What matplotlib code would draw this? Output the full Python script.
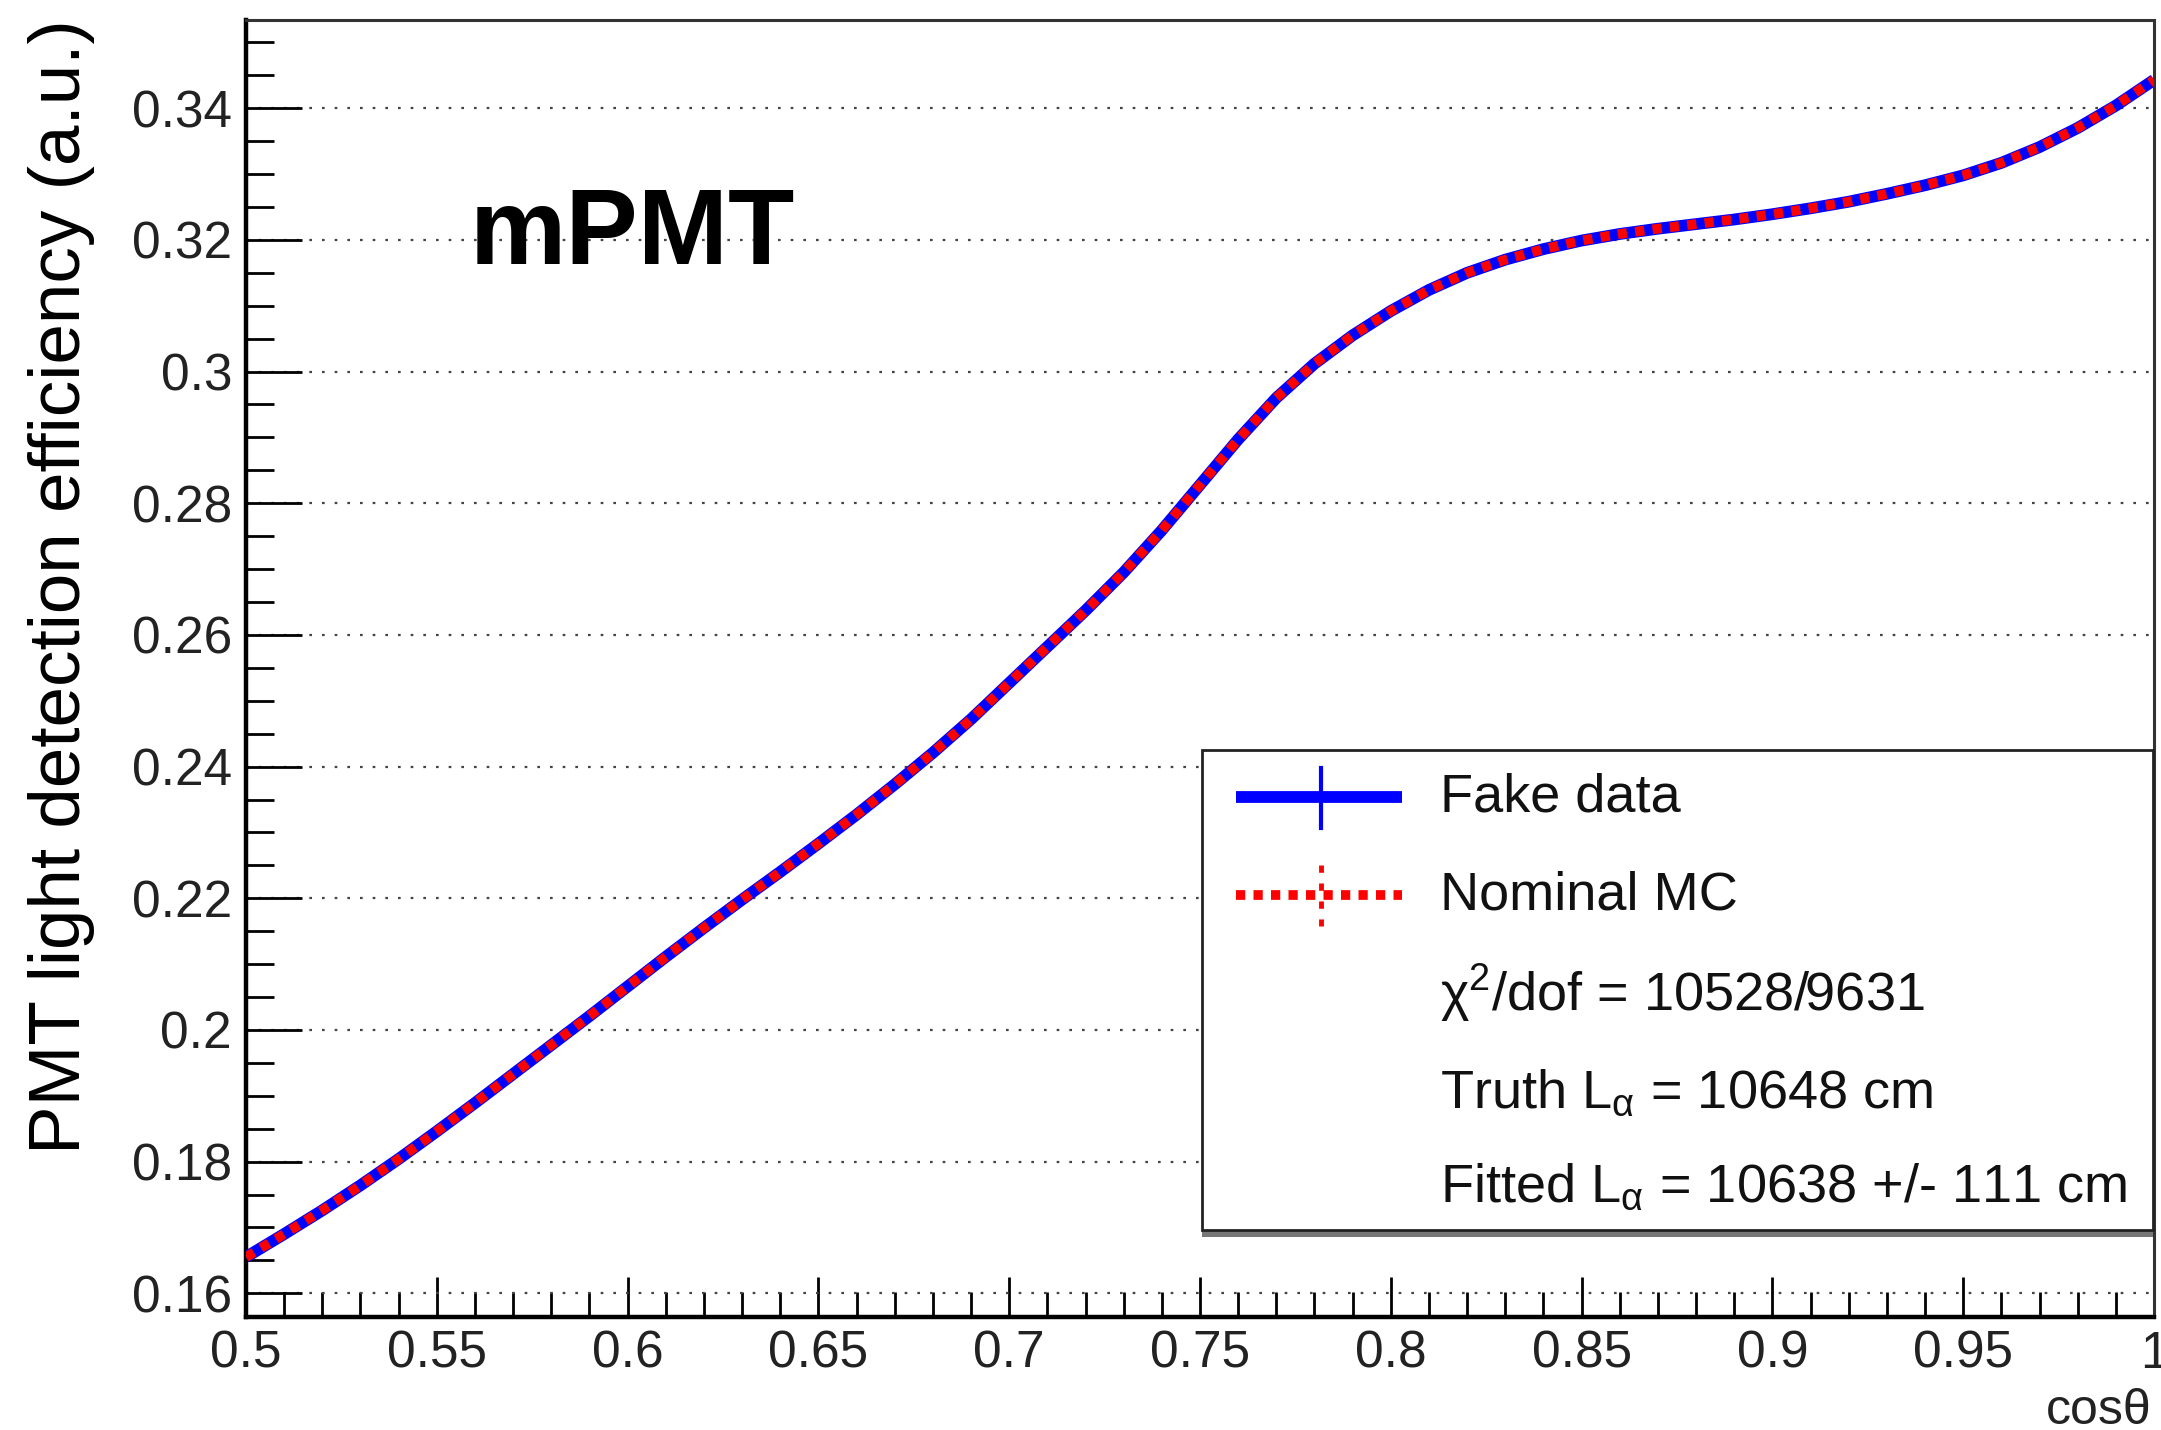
import matplotlib
matplotlib.use("Agg")
import matplotlib.pyplot as plt
from matplotlib.ticker import MultipleLocator, FuncFormatter
from matplotlib.patches import Rectangle
from matplotlib.lines import Line2D

plt.rcParams["font.family"] = "Liberation Sans"
plt.rcParams["mathtext.fontset"] = "custom"
plt.rcParams["mathtext.rm"] = "Liberation Sans"
plt.rcParams["mathtext.it"] = "Liberation Sans:italic"
plt.rcParams["mathtext.bf"] = "Liberation Sans:bold"

# efficiency vs cos(theta)
cos_theta = [0.50, 0.51, 0.52, 0.53, 0.54, 0.55, 0.56, 0.57, 0.58, 0.59,
             0.60, 0.61, 0.62, 0.63, 0.64, 0.65, 0.66, 0.67, 0.68, 0.69,
             0.70, 0.71, 0.72, 0.73, 0.74, 0.75, 0.76, 0.77, 0.78, 0.79,
             0.80, 0.81, 0.82, 0.83, 0.84, 0.85, 0.86, 0.87, 0.88, 0.89,
             0.90, 0.91, 0.92, 0.93, 0.94, 0.95, 0.96, 0.97, 0.98, 0.99,
             1.00]
fake_data = [0.1655, 0.1690, 0.1726, 0.1764, 0.1804, 0.1846, 0.1889, 0.1933, 0.1977, 0.2021,
             0.2066, 0.2111, 0.2155, 0.2198, 0.2240, 0.2283, 0.2327, 0.2373, 0.2421, 0.2472,
             0.2527, 0.2582, 0.2637, 0.2695, 0.2759, 0.2828, 0.2897, 0.2960, 0.3012, 0.3055,
             0.3092, 0.3124, 0.3150, 0.3170, 0.3186, 0.3199, 0.3209, 0.3217, 0.3224, 0.3231,
             0.3239, 0.3248, 0.3258, 0.3270, 0.3283, 0.3298, 0.3317, 0.3341, 0.3370, 0.3404,
             0.3443]
nominal_mc = list(fake_data)

chi2 = 10528
ndof = 9631
truth_len = 10648
fitted_len = 10638
fitted_err = 111

W, H = 2161, 1430
fig = plt.figure(figsize=(W / 100, H / 100), dpi=100)
ax = fig.add_axes([246 / W, 1 - 1317 / H, (2154 - 246) / W, (1317 - 20) / H])

ax.plot(cos_theta, fake_data, color="blue", lw=8.5, solid_capstyle="butt",
        solid_joinstyle="round", zorder=3)
ax.plot(cos_theta, nominal_mc, color="red", lw=7, linestyle=(0, (0.95, 0.85)),
        dash_capstyle="butt", zorder=4)

ax.set_xlim(0.5, 1.0)
ax.set_ylim(0.1564, 0.3534)
ax.xaxis.set_major_locator(MultipleLocator(0.05))
ax.xaxis.set_minor_locator(MultipleLocator(0.01))
ax.yaxis.set_major_locator(MultipleLocator(0.02))
ax.yaxis.set_minor_locator(MultipleLocator(0.005))
fmt = FuncFormatter(lambda v, p: "%g" % round(v, 4))
ax.xaxis.set_major_formatter(fmt)
ax.yaxis.set_major_formatter(fmt)

ax.tick_params(axis="both", which="both", direction="in", top=False, right=False,
               colors="black", labelcolor="#222222", labelsize=37, width=2)
ax.tick_params(axis="y", which="major", length=40, pad=10)
ax.tick_params(axis="y", which="minor", length=20)
ax.tick_params(axis="x", which="major", length=29, pad=9)
ax.tick_params(axis="x", which="minor", length=18)

ax.yaxis.grid(True, which="major", color="#444444", lw=1.6, linestyle=(0, (1.2, 4.5)))
ax.set_axisbelow(True)
for side in ["left", "bottom"]:
    ax.spines[side].set_linewidth(3.2)
for side in ["top", "right"]:
    ax.spines[side].set_linewidth(2.2)
    ax.spines[side].set_color("#333333")

# overlay in pixel units for labels and legend
ov = fig.add_axes([0, 0, 1, 1])
ov.set_xlim(0, W)
ov.set_ylim(H, 0)
ov.axis("off")
ov.patch.set_alpha(0)

ov.text(62, 587, "PMT light detection efficiency (a.u.)", rotation=90,
        ha="center", va="center", fontsize=52.5)
ov.text(2152, 1424, "cosθ", ha="right", va="baseline", fontsize=36, color="#222222")
ov.text(470, 264, "mPMT", ha="left", va="baseline", fontsize=78, fontweight="bold")

# legend box
ov.add_patch(Rectangle((1202, 1230), 2153 - 1202, 7, facecolor="#777777",
                       edgecolor="none", zorder=5))
ov.add_patch(Rectangle((1202, 750), 2153 - 1202, 1230 - 750, facecolor="white",
                       edgecolor="#222222", lw=2, zorder=6))

ov.add_line(Line2D([1236, 1402], [797, 797], color="blue", lw=8.5,
                   solid_capstyle="butt", zorder=7))
ov.add_line(Line2D([1321, 1321], [768, 828], color="blue", lw=3, zorder=7))
ov.add_line(Line2D([1236, 1402], [895, 895], color="red", lw=7,
                   linestyle=(0, (0.95, 0.85)), dash_capstyle="butt", zorder=7))
ov.add_line(Line2D([1321, 1321], [865, 926], color="red", lw=3.5,
                   linestyle=(0, (1.5, 2.2)), zorder=7))

rows = [
    (797, "Fake data"),
    (895, "Nominal MC"),
    (993, "χ$^{2}$/dof = %d/%d" % (chi2, ndof)),
    (1093, r"Truth L$_{\mathrm{α}}$ = %d cm" % truth_len),
    (1187, r"Fitted L$_{\mathrm{α}}$ = %d +/- %d cm" % (fitted_len, fitted_err)),
]
for y, label in rows:
    ov.text(1440, y, label, ha="left", va="center", fontsize=39,
            color="#111111", zorder=8)

fig.savefig("out.png", dpi=100)
